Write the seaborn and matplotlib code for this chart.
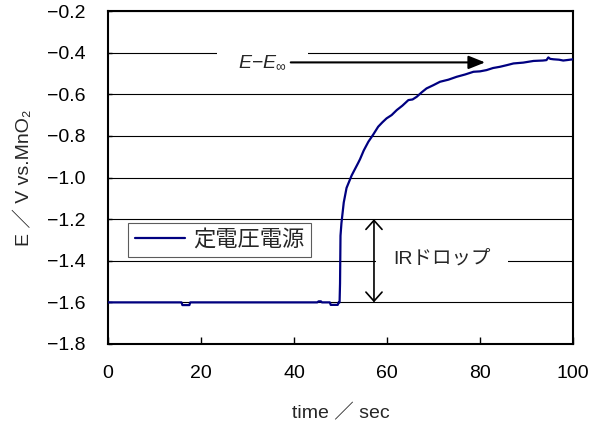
import matplotlib
matplotlib.use("Agg")
import matplotlib.pyplot as plt
import seaborn as sns
import pandas as pd

# Potential transient after switching the constant-voltage supply
time_s = [0.0, 15.8, 16.0, 17.5, 17.7,
          45.0, 45.3, 45.8, 46.0,
          47.7, 47.9, 49.4, 49.6,
          49.8, 49.9, 50.0, 50.2, 50.45, 50.7, 51.3,
          52.4, 53.1, 53.8, 54.2, 55.0, 56.0, 57.0, 58.1, 59.0, 59.9,
          61.0, 62.1, 63.3, 64.6, 65.5, 66.4, 67.5, 68.5, 70.0, 71.4,
          73.2, 75.0, 76.8, 78.6, 80.0, 81.4, 82.8, 84.3, 85.8, 87.2,
          89.3, 91.5, 93.5, 94.3, 94.7, 95.1, 95.8, 97.0, 97.9, 99.0,
          100.0]
potential_v = [-1.600, -1.600, -1.613, -1.613, -1.600,
               -1.600, -1.595, -1.595, -1.600,
               -1.600, -1.612, -1.612, -1.600,
               -1.600, -1.510, -1.280, -1.220, -1.170, -1.120, -1.050,
               -0.990, -0.960, -0.930, -0.912, -0.870, -0.828, -0.795, -0.756, -0.735, -0.716,
               -0.700, -0.676, -0.655, -0.628, -0.625, -0.612, -0.590, -0.572, -0.556, -0.540,
               -0.530, -0.516, -0.505, -0.492, -0.490, -0.484, -0.474, -0.468, -0.460, -0.452,
               -0.448, -0.440, -0.438, -0.436, -0.423, -0.430, -0.432, -0.434, -0.438, -0.435,
               -0.432]
series_name = "定電圧電源"

x_ticks = [0, 20, 40, 60, 80, 100]
y_ticks = [-1.8, -1.6, -1.4, -1.2, -1.0, -0.8, -0.6, -0.4, -0.2]

# IR drop: potential before and right after the switch
ir_top, ir_bottom = -1.2, -1.6
ir_time = 57.2
# Approach toward the final potential
approach_start, approach_end, approach_level = 39.3, 81.1, -0.447

df = pd.DataFrame({"time": time_s, "E": potential_v, "series": series_name})

sns.set_theme(style="white")
fonts = ["Liberation Sans", "Noto Sans CJK JP", "DejaVu Sans"]
plt.rcParams["font.family"] = fonts
plt.rcParams["mathtext.fontset"] = "custom"
plt.rcParams["mathtext.rm"] = "Liberation Sans"
plt.rcParams["mathtext.it"] = "Liberation Sans:italic"
plt.rcParams["axes.unicode_minus"] = True

fig = plt.figure(figsize=(5.99, 4.32), dpi=100)
ax = fig.add_axes([108 / 599, 1 - 344 / 432, 465 / 599, 333 / 432])

sns.lineplot(data=df, x="time", y="E", hue="series", palette=["#000080"],
             estimator=None, sort=False, linewidth=1.6, ax=ax, zorder=4)

ax.set_xlim(0, 100)
ax.set_ylim(-1.8, -0.2)
ax.set_xticks(x_ticks)
ax.set_yticks(y_ticks)
ax.set_xticklabels([str(v) for v in x_ticks])
ax.set_yticklabels([f"{v:.1f}".replace("-", "\u2212") for v in y_ticks])

ax.grid(axis="y", color="black", linewidth=0.8, zorder=0)
ax.grid(axis="x", visible=False)
ax.set_axisbelow(True)
for side in ["left", "right", "top", "bottom"]:
    ax.spines[side].set_visible(True)
    ax.spines[side].set_color("black")
    ax.spines[side].set_linewidth(1.5)

ax.tick_params(axis="x", direction="in", length=5, width=1, pad=15,
               labelsize=14, colors="black", bottom=True)
ax.tick_params(axis="y", direction="in", length=3, width=1, pad=16,
               labelsize=14, colors="black", left=True)

ax.set_xlabel("time ／ sec", fontsize=14, labelpad=16)
ax.set_ylabel("E ／ V vs.MnO\u2082", fontsize=14, labelpad=10)

leg = ax.legend(loc="upper left", bbox_to_anchor=(0.043, 0.363),
                borderaxespad=0, frameon=True, fancybox=False, shadow=False,
                fontsize=16, handlelength=2.25, handletextpad=0.4,
                borderpad=0.3)
leg.get_frame().set_edgecolor("#333333")
leg.get_frame().set_linewidth(0.8)
for h in leg.get_lines():
    h.set_linewidth(1.6)

# E - E_inf label and arrow
ax.text(33.2, approach_level + 0.003, r"$E\mathrm{-}E_{\infty}$", fontsize=14,
        ha="center", va="center", zorder=5,
        bbox=dict(boxstyle="square,pad=1.1", facecolor="white", edgecolor="none"))
ax.annotate("", xy=(approach_end, approach_level),
            xytext=(approach_start, approach_level), zorder=6,
            arrowprops=dict(arrowstyle="-|>,head_length=1.0,head_width=0.4",
                            color="black", lw=1.5, shrinkA=0, shrinkB=0,
                            mutation_scale=10))

# IR drop label and double arrow
ax.text(71.8, -1.39, "IRドロップ", fontsize=14, ha="center", va="center",
        zorder=5,
        bbox=dict(boxstyle="square,pad=0.9", facecolor="white", edgecolor="none"))
ax.annotate("", xy=(ir_time, ir_top), xytext=(ir_time, ir_bottom), zorder=6,
            arrowprops=dict(arrowstyle="<->,head_length=0.65,head_width=0.58",
                            color="black", lw=1.2, shrinkA=0, shrinkB=0,
                            mutation_scale=10))

fig.savefig("out.png", dpi=100)
